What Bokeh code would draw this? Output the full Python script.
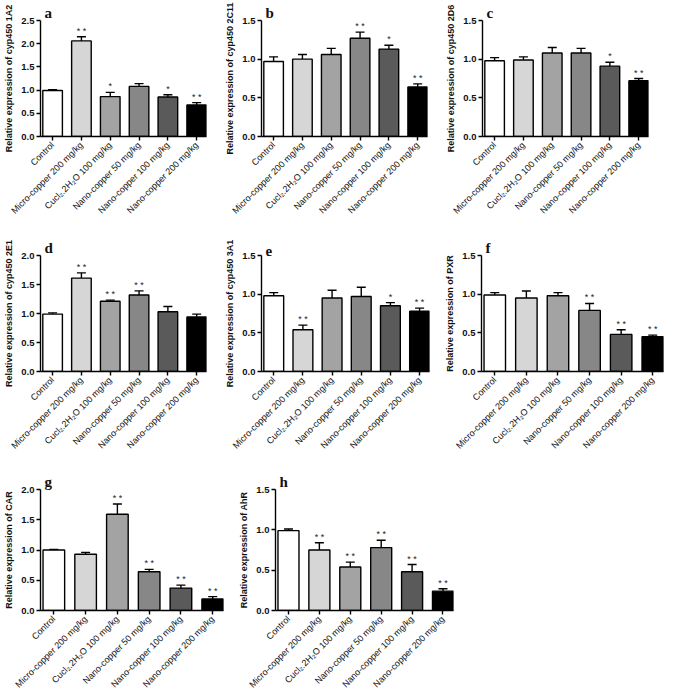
import math
from bokeh.plotting import figure
from bokeh.layouts import column, row
from bokeh.models import (Range1d, FixedTicker, NumeralTickFormatter, ColumnDataSource,
                          Whisker, TeeHead)
from bokeh.embed import file_html
from bokeh.resources import INLINE
from bokeh.core.properties import value

groups = ["Control", "Micro-copper 200 mg/kg", "Cucl\u2082.2H\u2082O 100 mg/kg",
          "Nano-copper 50 mg/kg", "Nano-copper 100 mg/kg", "Nano-copper 200 mg/kg"]
bar_colors = ["#ffffff", "#d6d6d6", "#a3a3a3", "#878787", "#5a5a5a", "#000000"]

# panel a: cyp450 1A2
a_mean = [0.99, 2.06, 0.86, 1.08, 0.85, 0.68]
a_err = [0.02, 0.09, 0.09, 0.06, 0.05, 0.05]
a_sig = ["", "* *", "*", "", "*", "* *"]
# panel b: cyp450 2C11
b_mean = [0.97, 1.00, 1.06, 1.27, 1.13, 0.64]
b_err = [0.06, 0.06, 0.08, 0.08, 0.05, 0.04]
b_sig = ["", "", "", "* *", "*", "* *"]
# panel c: cyp450 2D6
c_mean = [0.98, 0.99, 1.08, 1.08, 0.91, 0.72]
c_err = [0.04, 0.04, 0.07, 0.06, 0.05, 0.03]
c_sig = ["", "", "", "", "*", "* *"]
# panel d: cyp450 2E1
d_mean = [0.99, 1.61, 1.21, 1.32, 1.03, 0.94]
d_err = [0.02, 0.09, 0.02, 0.07, 0.09, 0.05]
d_sig = ["", "* *", "* *", "* *", "", ""]
# panel e: cyp450 3A1
e_mean = [0.98, 0.54, 0.95, 0.97, 0.85, 0.78]
e_err = [0.04, 0.06, 0.10, 0.12, 0.04, 0.04]
e_sig = ["", "* *", "", "", "*", "* *"]
# panel f: PXR
f_mean = [0.99, 0.95, 0.98, 0.79, 0.48, 0.45]
f_err = [0.03, 0.09, 0.04, 0.09, 0.06, 0.02]
f_sig = ["", "", "", "* *", "* *", "* *"]
# panel g: CAR
g_mean = [1.00, 0.93, 1.59, 0.64, 0.37, 0.19]
g_err = [0.01, 0.03, 0.17, 0.04, 0.05, 0.04]
g_sig = ["", "", "* *", "* *", "* *", "* *"]
# panel h: AhR
h_mean = [0.99, 0.75, 0.54, 0.78, 0.48, 0.24]
h_err = [0.02, 0.09, 0.06, 0.09, 0.09, 0.03]
h_sig = ["", "* *", "* *", "* *", "* *", "* *"]

y_ticks_25 = [0.0, 0.5, 1.0, 1.5, 2.0, 2.5]
y_ticks_20 = [0.0, 0.5, 1.0, 1.5, 2.0]
y_ticks_15 = [0.0, 0.5, 1.0, 1.5]

SANS = "Liberation Sans"
SERIF = "Liberation Serif"


def panel(letter, ylabel, mean, err, sig, yticks, fw, fh, left, right, top):
    n = len(groups)
    xs = list(range(n))
    src = ColumnDataSource(dict(
        x=xs, top=mean, upper=[m + e for m, e in zip(mean, err)], color=bar_colors,
        sig=sig))
    p = figure(frame_width=fw, frame_height=fh, output_backend="svg", toolbar_location=None,
               x_range=Range1d(-0.42, n - 1 + 0.34), y_range=Range1d(0, yticks[-1]),
               min_border_left=left, min_border_right=right, min_border_top=top,
               min_border_bottom=10, title=letter)
    p.title.text_font = SERIF
    p.title.text_font_style = "bold"
    p.title.text_font_size = "15px"
    p.title.align = "left"
    p.title.offset = 4
    p.title.standoff = 0
    p.title.vertical_align = "bottom"
    p.title.text_color = "#111111"
    p.outline_line_color = None
    p.xgrid.visible = False
    p.ygrid.visible = False
    wh = Whisker(source=src, base="x", upper="upper", lower="top",
                 line_color="black", line_width=1.4,
                 upper_head=TeeHead(size=9, line_color="black", line_width=1.4),
                 lower_head=None)
    p.add_layout(wh)
    p.vbar(x="x", top="top", width=0.68, bottom=0, source=src, fill_color="color",
           line_color="black", line_width=1.4)
    p.text(x="x", y="upper", text="sig", source=src, text_align="center",
           text_baseline="bottom", y_offset=-1, text_font=value(SANS),
           text_font_size="9px", text_color="#222222")
    # axes
    p.xaxis.ticker = FixedTicker(ticks=xs)
    p.xaxis.major_label_overrides = {i: g for i, g in enumerate(groups)}
    p.xaxis.major_label_orientation = math.pi / 4
    p.xaxis.major_label_text_font = SANS
    p.xaxis.major_label_text_font_size = "9px"
    p.xaxis.major_label_standoff = 3
    p.yaxis.ticker = FixedTicker(ticks=yticks)
    p.yaxis.formatter = NumeralTickFormatter(format="0.0")
    p.yaxis.major_label_text_font = SANS
    p.yaxis.major_label_text_font_style = "bold"
    p.yaxis.major_label_text_font_size = "9.5px"
    p.yaxis.major_label_standoff = 2
    p.yaxis.axis_label = ylabel
    p.yaxis.axis_label_text_font = SANS
    p.yaxis.axis_label_text_font_style = "bold"
    p.yaxis.axis_label_text_font_size = "9px"
    p.yaxis.axis_label_standoff = 4
    for ax in (p.xaxis[0], p.yaxis[0]):
        ax.axis_line_width = 1.4
        ax.major_tick_line_width = 1.4
        ax.major_tick_out = 4
        ax.major_tick_in = 0
        ax.minor_tick_line_color = None
        ax.major_label_text_color = "#111111"
        ax.axis_label_text_color = "#111111"
    return p


pa = panel("a", "Relative expression of cyp450 1A2", a_mean, a_err, a_sig, y_ticks_25,
           166, 116, 40, 15, 20)
pb = panel("b", "Relative expression of cyp450 2C11", b_mean, b_err, b_sig, y_ticks_15,
           166, 116, 40, 15, 20)
pc = panel("c", "Relative expression of cyp450 2D6", c_mean, c_err, c_sig, y_ticks_15,
           166, 116, 40, 12, 20)
pd_ = panel("d", "Relative expression of cyp450 2E1", d_mean, d_err, d_sig, y_ticks_20,
            166, 116, 40, 15, 33)
pe = panel("e", "Relative expression of cyp450 3A1", e_mean, e_err, e_sig, y_ticks_15,
           168, 116, 40, 12, 33)
pf = panel("f", "Relative expression of PXR", f_mean, f_err, f_sig, y_ticks_15,
           182, 116, 40, 2, 33)
pg = panel("g", "Relative expression of CAR", g_mean, g_err, g_sig, y_ticks_20,
           183, 121, 40, 12, 32)
ph = panel("h", "Relative expression of AhR", h_mean, h_err, h_sig, y_ticks_15,
           178, 121, 40, 15, 32)

layout = column(row(pa, pb, pc), row(pd_, pe, pf), row(pg, ph))
open("out.html", "w").write(file_html(layout, INLINE))
